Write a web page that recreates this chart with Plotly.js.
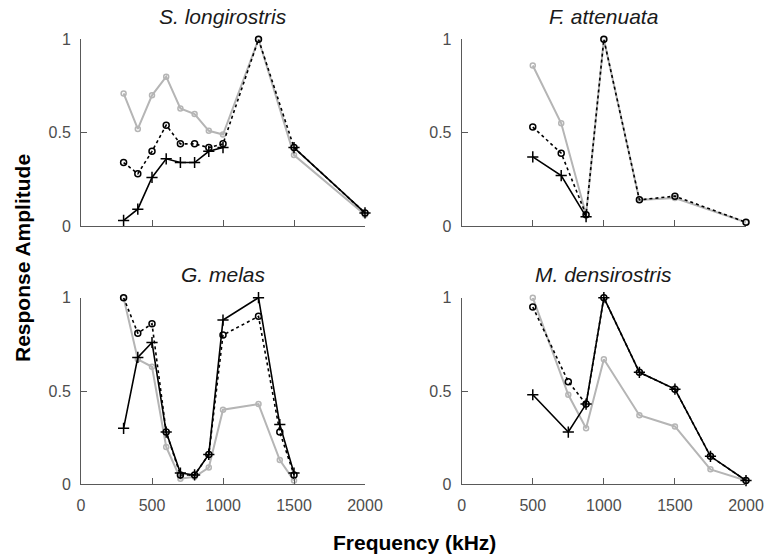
<!DOCTYPE html>
<html>
<head>
<meta charset="utf-8">
<script src="https://cdn.plot.ly/plotly-3.0.1.min.js"></script>
<style>html,body{margin:0;padding:0;background:#fff;}#chart{width:766px;height:559px;}</style>
</head>
<body>
<div id="chart"></div>
<script>
// Panel titles
var panelTitles = ["S. longirostris", "F. attenuata", "G. melas", "M. densirostris"];
var xTickVals = [0, 500, 1000, 1500, 2000];
var yTickVals = [0, 0.5, 1];
var yTickText = ["0", "0.5", "1"];

// S. longirostris
var slFreq  = [300, 400, 500, 600, 700, 800, 900, 1000, 1250, 1500, 2000];
var slGray  = [0.71, 0.52, 0.70, 0.80, 0.63, 0.60, 0.51, 0.49, 1.00, 0.38, 0.06];
var slDot   = [0.34, 0.28, 0.40, 0.54, 0.44, 0.44, 0.42, 0.44, 1.00, 0.42, 0.07];
var slPlus  = [0.03, 0.09, 0.26, 0.36, 0.34, 0.34, 0.40, 0.42, null, 0.42, 0.07];

// F. attenuata
var faFreq  = [500, 700, 875, 1000, 1250, 1500, 2000];
var faGray  = [0.86, 0.55, 0.06, 1.00, 0.14, 0.15, 0.02];
var faDot   = [0.53, 0.39, 0.06, 1.00, 0.14, 0.16, 0.02];
var faPlus  = [0.37, 0.27, 0.05, null, null, null, null];

// G. melas
var gmFreq  = [300, 400, 500, 600, 700, 800, 900, 1000, 1250, 1400, 1500];
var gmGray  = [1.00, 0.67, 0.63, 0.20, 0.03, 0.04, 0.09, 0.40, 0.43, 0.13, 0.02];
var gmDot   = [1.00, 0.81, 0.86, 0.28, 0.05, 0.05, 0.16, 0.80, 0.90, 0.28, 0.05];
var gmPlus  = [0.30, 0.68, 0.76, 0.28, 0.06, 0.05, 0.16, 0.88, 1.00, 0.32, 0.06];

// M. densirostris
var mdFreq  = [500, 750, 875, 1000, 1250, 1500, 1750, 2000];
var mdGray  = [1.00, 0.48, 0.30, 0.67, 0.37, 0.31, 0.08, 0.02];
var mdDot   = [0.95, 0.55, 0.43, 1.00, 0.60, 0.51, 0.15, 0.02];
var mdPlus  = [0.48, 0.28, 0.43, 1.00, 0.60, 0.51, 0.15, 0.02];

var panels = [
  {f: slFreq, g: slGray, d: slDot, p: slPlus},
  {f: faFreq, g: faGray, d: faDot, p: faPlus},
  {f: gmFreq, g: gmGray, d: gmDot, p: gmPlus},
  {f: mdFreq, g: mdGray, d: mdDot, p: mdPlus}
];

var GRAY = '#b5b5b5';
var data = [];
panels.forEach(function(pn, i) {
  var xa = 'x' + (i === 0 ? '' : (i + 1));
  var ya = 'y' + (i === 0 ? '' : (i + 1));
  data.push({x: pn.f, y: pn.g, xaxis: xa, yaxis: ya, type: 'scatter', mode: 'lines+markers',
    line: {color: GRAY, width: 2}, cliponaxis: false,
    marker: {symbol: 'circle-open', size: 5, color: GRAY, line: {width: 1.5, color: GRAY}}});
  data.push({x: pn.f, y: pn.d, xaxis: xa, yaxis: ya, type: 'scatter', mode: 'lines+markers',
    line: {color: '#000', width: 1.6, dash: 'dot'}, cliponaxis: false,
    marker: {symbol: 'circle-open', size: 6, color: '#000', line: {width: 1.5, color: '#000'}}});
  data.push({x: pn.f, y: pn.p, xaxis: xa, yaxis: ya, type: 'scatter', mode: 'lines+markers',
    line: {color: '#000', width: 1.6}, cliponaxis: false,
    marker: {symbol: 'cross-thin-open', size: 8, color: '#000', line: {width: 1.5, color: '#000'}}});
});

var W = 766, H = 559;
var xDomL = [81 / W, 365 / W], xDomR = [461.7 / W, 746 / W];
var yDomT = [(H - 226) / H, (H - 39.3) / H], yDomB = [(H - 484.3) / H, (H - 297.7) / H];
var AX = '#595959';
var tickFont = {family: 'Liberation Sans, Arial, sans-serif', size: 16, color: '#4d4d4d'};

function xAxis(dom, anchor, showLabels) {
  return {domain: dom, anchor: anchor, range: [0, 2000], tickmode: 'array', tickvals: xTickVals,
    ticktext: xTickVals.map(String), showticklabels: showLabels, ticks: 'inside', ticklen: 6,
    tickcolor: AX, tickwidth: 1, showline: true, linecolor: AX, linewidth: 1, mirror: false,
    showgrid: false, zeroline: false, tickfont: tickFont, ticklabelstandoff: 6, fixedrange: true};
}
function yAxis(dom, anchor) {
  return {domain: dom, anchor: anchor, range: [0, 1], tickmode: 'array', tickvals: yTickVals,
    ticktext: yTickText, ticks: 'inside', ticklen: 6, tickcolor: AX, tickwidth: 1,
    showline: true, linecolor: AX, linewidth: 1, mirror: false, showgrid: false, zeroline: false,
    tickfont: tickFont, ticklabelstandoff: 6, fixedrange: true};
}

var titleFont = {family: 'Liberation Sans, Arial, sans-serif', size: 21, color: '#1a1a1a'};
var titlePos = [
  {x: (xDomL[0] + xDomL[1]) / 2, y: 1 - 17 / H},
  {x: (xDomR[0] + xDomR[1]) / 2, y: 1 - 17 / H},
  {x: (xDomL[0] + xDomL[1]) / 2, y: 1 - 274 / H},
  {x: (xDomR[0] + xDomR[1]) / 2, y: 1 - 274 / H}
];
var annotations = panelTitles.map(function(t, i) {
  return {text: '<i>' + t + '</i>', x: titlePos[i].x, y: titlePos[i].y, xref: 'paper', yref: 'paper',
    xanchor: 'center', yanchor: 'middle', showarrow: false, font: titleFont};
});
annotations.push({text: '<b>Frequency (kHz)</b>', x: 414 / W, y: 1 - 542 / H, xref: 'paper', yref: 'paper',
  xanchor: 'center', yanchor: 'middle', showarrow: false,
  font: {family: 'Liberation Sans, Arial, sans-serif', size: 21, color: '#000'}});
annotations.push({text: '<b>Response Amplitude</b>', x: 22 / W, y: 1 - 258 / H, xref: 'paper', yref: 'paper',
  xanchor: 'center', yanchor: 'middle', showarrow: false, textangle: -90,
  font: {family: 'Liberation Sans, Arial, sans-serif', size: 21, color: '#000'}});

var layout = {
  width: W, height: H, margin: {l: 0, r: 0, t: 0, b: 0}, showlegend: false,
  paper_bgcolor: '#fff', plot_bgcolor: '#fff',
  xaxis: xAxis(xDomL, 'y', false), yaxis: yAxis(yDomT, 'x'),
  xaxis2: xAxis(xDomR, 'y2', false), yaxis2: yAxis(yDomT, 'x2'),
  xaxis3: xAxis(xDomL, 'y3', true), yaxis3: yAxis(yDomB, 'x3'),
  xaxis4: xAxis(xDomR, 'y4', true), yaxis4: yAxis(yDomB, 'x4'),
  annotations: annotations
};
Plotly.newPlot('chart', data, layout, {displayModeBar: false, staticPlot: true});
</script>
</body>
</html>
